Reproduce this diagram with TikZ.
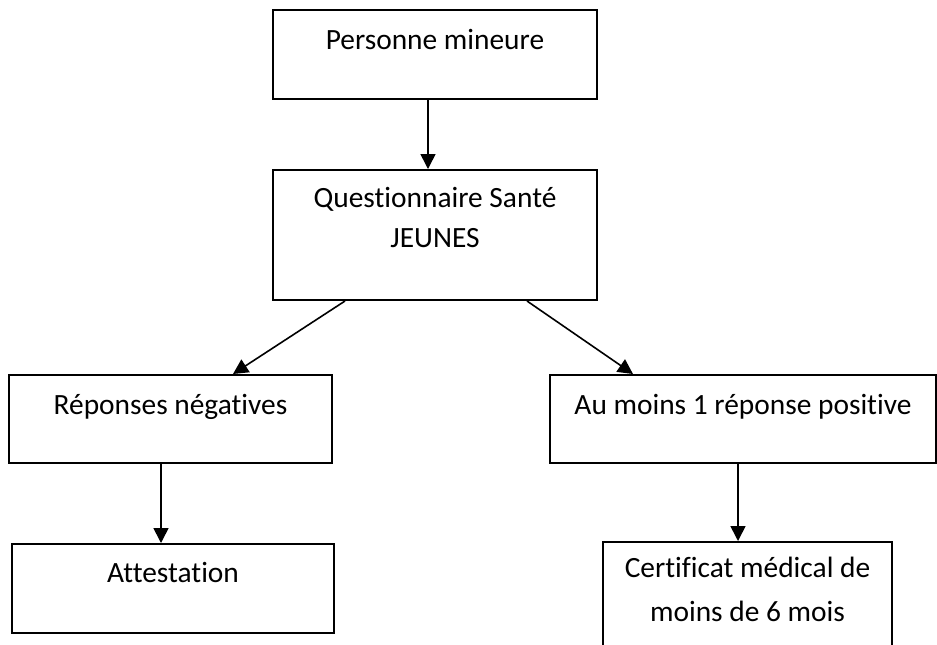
\documentclass[tikz,border=0pt]{standalone}
\usepackage{fontspec}
\setmainfont[Ligatures=NoCommon]{Carlito}
\usetikzlibrary{arrows.meta}

\begin{document}
\begin{tikzpicture}
        [x=0.5pt, y=-0.5pt, every node/.style={draw, shape=rectangle, line width=1pt, inner sep=0}, txt/.style={draw=none, anchor=base, align=center, font=\fontsize{14.7}{20}\selectfont}, arr/.style={-{Triangle[length=7.5pt,width=7.5pt]}, line width=0.8pt}]

        \useasboundingbox (0,0) rectangle (937,644);

        \node[minimum width=162pt, minimum height=44.5pt, label={[txt, yshift=-20pt]north:Personne mineure}] (mineur) at (435, 54.5) {};
        \node[minimum width=162pt, minimum height=65pt, label={[txt, yshift=-39pt]north:Questionnaire Santé\\JEUNES}] (quest) at (435, 235) {};
        \node[minimum width=161.5pt, minimum height=44pt, label={[txt, yshift=-20pt]north:Réponses négatives}] (neg) at (170.5, 419) {};
        \node[minimum width=193pt, minimum height=44pt, label={[txt, yshift=-20pt]north:Au moins 1 réponse positive}] (pos) at (743, 419) {};
        \node[minimum width=161pt, minimum height=44.5pt, label={[txt, yshift=-19.5pt]north:Attestation}] (att) at (173, 588.5) {};
        \node[minimum width=144.5pt, minimum height=65pt, label={[txt, yshift=-40pt]north:Certificat médical de\\[2pt]moins de 6 mois}] (cert) at (747.5, 607) {};

        \draw[arr] ([xshift=-3.5pt]mineur.south) -- ([xshift=-3.5pt]quest.north);
        \draw[arr] ([xshift=-45pt]quest.south) -- ([xshift=31.25pt]neg.north);
        \draw[arr] ([xshift=46pt]quest.south) -- ([xshift=-55pt]pos.north);
        \draw[arr] ([xshift=-4.75pt]neg.south) -- ([xshift=-6pt]att.north);
        \draw[arr] ([xshift=-2.5pt]pos.south) -- ([xshift=-4.75pt]cert.north);
      \end{tikzpicture}
\end{document}
